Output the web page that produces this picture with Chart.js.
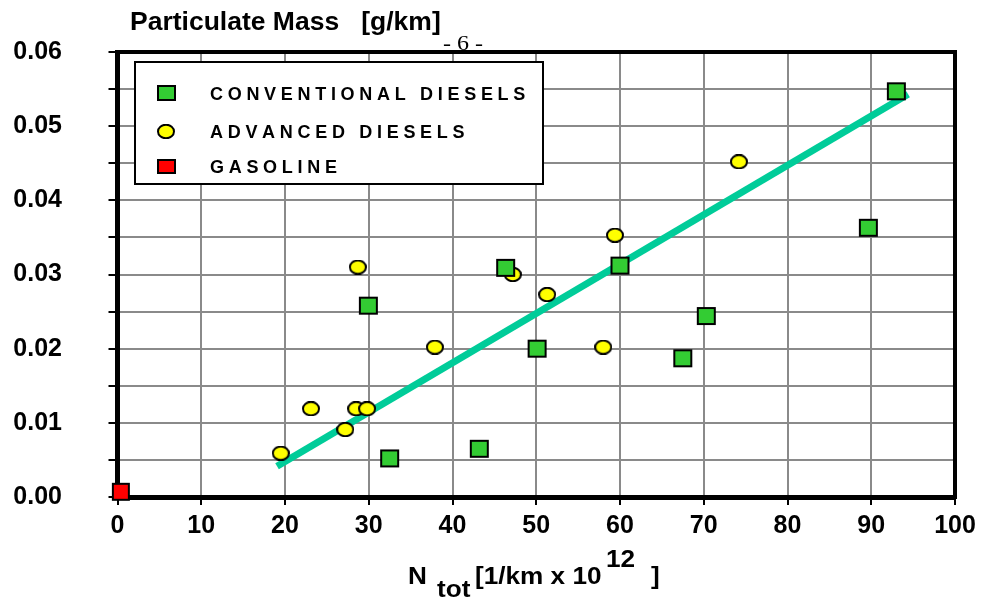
<!DOCTYPE html>
<html><head><meta charset="utf-8">
<script src="https://cdn.jsdelivr.net/npm/chart.js@4/dist/chart.umd.min.js"></script>
<style>html,body{margin:0;padding:0;background:#fff}#wrap{width:981px;height:598px}</style>
</head><body><div id="wrap"><canvas id="c" width="981" height="598"></canvas></div>
<script>
// ---- data ----
const seriesNames = ['CONVENTIONAL DIESELS', 'ADVANCED DIESELS', 'GASOLINE'];
const conventionalX = [29.95, 32.5, 43.2, 46.35, 50.1, 60.0, 67.5, 70.3, 89.65, 93.0];
const conventionalY = [0.0258, 0.0052, 0.0065, 0.0309, 0.0200, 0.0312, 0.0187, 0.0244, 0.0363, 0.0547];
const advancedX = [19.5, 23.1, 27.2, 28.5, 28.7, 29.8, 37.9, 47.2, 51.3, 58.0, 59.4, 74.2];
const advancedY = [0.0059, 0.0119, 0.0091, 0.0119, 0.0310, 0.0119, 0.0202, 0.0300, 0.0273, 0.0202, 0.0353, 0.0452];
const gasolineX = [0.4];
const gasolineY = [0.0007];
const trendX = [19.05, 94.4];
const trendY = [0.00415, 0.0543];
const xTickValues = [0, 10, 20, 30, 40, 50, 60, 70, 80, 90, 100];
const yTickLabels = ['0.00', '0.01', '0.02', '0.03', '0.04', '0.05', '0.06'];
const yTitle = 'Particulate Mass   [g/km]';
const pageMark = '- 6 -';

const zip = (xs, ys) => xs.map((x, i) => ({x, y: ys[i]}));

function makeMarker(w, h, fill, shape) {
  const c = document.createElement('canvas');
  c.width = w + 2; c.height = h + 2;
  const g = c.getContext('2d');
  g.fillStyle = fill; g.strokeStyle = '#000'; g.lineWidth = 2;
  if (shape === 'ellipse') {
    g.beginPath();
    g.ellipse(c.width / 2, c.height / 2, w / 2, h / 2, 0, 0, Math.PI * 2);
    g.fill(); g.stroke();
  } else {
    g.fillRect(2, 2, w - 2, h - 2);
    g.strokeRect(2, 2, w - 2, h - 2);
  }
  return c;
}
const greenSq = makeMarker(19, 18, '#33CC33', 'rect');
const yellowEl = makeMarker(16, 13.5, '#FFFF00', 'ellipse');
const redSq = makeMarker(18, 18, '#FF0000', 'rect');
const legGreen = makeMarker(19, 16, '#33CC33', 'rect');
const legYellow = makeMarker(16, 13.5, '#FFFF00', 'ellipse');
const legRed = makeMarker(19, 15, '#FF0000', 'rect');

const FONT = '"Liberation Sans", Arial, sans-serif';

function spacedText(ctx, txt, x, y, spacing) {
  let cx = x;
  for (const ch of txt) {
    ctx.fillText(ch, cx, y);
    cx += ctx.measureText(ch).width + spacing;
  }
}

const custom = {
  id: 'custom',
  beforeDatasetsDraw(chart) {
    const {ctx, chartArea: a} = chart;
    ctx.save();
    ctx.strokeStyle = '#000'; ctx.lineWidth = 4;
    ctx.beginPath();
    ctx.moveTo(a.left, a.top); ctx.lineTo(a.right, a.top); ctx.lineTo(a.right, a.bottom + 2);
    ctx.stroke();
    ctx.restore();
  },
  afterDatasetsDraw(chart) {
    const {ctx} = chart;
    ctx.save();
    // legend box
    ctx.fillStyle = '#fff'; ctx.strokeStyle = '#000'; ctx.lineWidth = 2;
    ctx.fillRect(135, 62, 408, 122);
    ctx.strokeRect(135, 62, 408, 122);
    const markers = [legGreen, legYellow, legRed];
    const rowY = [93, 131, 166];
    ctx.fillStyle = '#000';
    ctx.font = 'bold 18px ' + FONT;
    ctx.textBaseline = 'alphabetic';
    seriesNames.forEach((n, i) => {
      const m = markers[i];
      ctx.drawImage(m, Math.round(166 - m.width / 2), Math.round(rowY[i] - m.height / 2));
      spacedText(ctx, n, 210, rowY[i] + 7, 4.7);
    });
    // y title
    ctx.save();
    ctx.font = 'bold 25px ' + FONT;
    ctx.translate(130, 30); ctx.scale(1.06, 1);
    ctx.fillText(yTitle, 0, 0);
    ctx.restore();
    // page mark
    ctx.save();
    ctx.font = '20px "Liberation Serif", "Times New Roman", serif';
    ctx.translate(443, 50); ctx.scale(1.2, 1);
    ctx.fillText(pageMark, 0, 0);
    ctx.restore();
    // x title with sub/superscript
    const parts = [
      ['N', 408, 584], ['tot', 437, 597], ['[1/km x 10', 475, 584], ['12', 606, 567], [']', 651, 584]
    ];
    ctx.font = 'bold 24px ' + FONT;
    parts.forEach(([t, x, y]) => {
      ctx.save(); ctx.translate(x, y); ctx.scale(1.09, 1); ctx.fillText(t, 0, 0); ctx.restore();
    });
    ctx.restore();
  }
};

Chart.defaults.font.family = FONT;
Chart.defaults.color = '#000';

new Chart(document.getElementById('c'), {
  type: 'scatter',
  data: {
    datasets: [
      {label: seriesNames[0], data: zip(conventionalX, conventionalY), pointStyle: greenSq, pointRadius: 9, clip: false, order: 1},
      {label: seriesNames[1], data: zip(advancedX, advancedY), pointStyle: yellowEl, pointRadius: 8, clip: false, order: 1},
      {label: seriesNames[2], data: zip(gasolineX, gasolineY), pointStyle: redSq, pointRadius: 9, clip: false, order: 1},
      {label: 'trend', data: zip(trendX, trendY), showLine: true, borderColor: '#00CC99', borderWidth: 7,
       borderCapStyle: 'butt', pointRadius: 0, order: 5}
    ]
  },
  options: {
    responsive: false, animation: false, devicePixelRatio: 1,
    layout: {autoPadding: false, padding: {left: 0, right: 26, top: 52, bottom: 0}},
    plugins: {legend: {display: false}, tooltip: {enabled: false}},
    scales: {
      x: {
        type: 'linear', min: xTickValues[0], max: xTickValues[xTickValues.length - 1],
        afterBuildTicks: s => { s.ticks = xTickValues.map(v => ({value: v})); },
        afterFit: s => { s.height = 101; s.paddingLeft = 0; s.paddingRight = 0; },
        grid: {color: '#8a8a8a', lineWidth: 2, tickColor: '#000', tickWidth: 2, tickLength: 8},
        border: {color: '#000', width: 5},
        ticks: {font: {size: 25, weight: 'bold'}, padding: 6, maxRotation: 0, autoSkip: false}
      },
      y: {
        type: 'linear', min: 0, max: 0.06,
        ticks: {
          stepSize: 0.005, font: {size: 25, weight: 'bold'}, padding: 46.5, autoSkip: false,
          callback: v => { const k = Math.round(v * 1000); return k % 10 === 0 ? yTickLabels[k / 10] : ''; }
        },
        afterFit: s => { s.width = 117.5; s.paddingTop = 0; s.paddingBottom = 0; },
        grid: {color: '#8a8a8a', lineWidth: 2, tickColor: '#000', tickWidth: 2, tickLength: 9},
        border: {color: '#000', width: 5}
      }
    }
  },
  plugins: [custom]
});
</script>
</body></html>
